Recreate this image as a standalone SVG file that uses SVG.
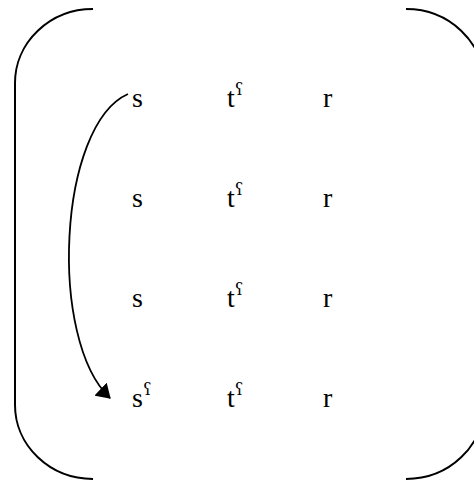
<svg xmlns="http://www.w3.org/2000/svg" width="474" height="482" viewBox="0 0 474 482">
<defs>
<style>
text{font-family:"Liberation Serif","DejaVu Serif",serif;font-size:28px;fill:#000}
.sup{font-family:"DejaVu Serif","Liberation Serif",serif;font-size:16px}
.br{fill:none;stroke:#000;stroke-width:2}
.cn{fill:none;stroke:#000;stroke-width:1.8}
</style>
<marker id="ah" viewBox="0 0 14 18" refX="13" refY="9" markerWidth="14" markerHeight="18" markerUnits="userSpaceOnUse" orient="auto">
<path d="M0,0 L14,9 L0,18 Z" fill="#000"/>
</marker>
</defs>
<rect width="474" height="482" fill="#fff"/>
<g id="brackets">
<path class="br" d="M93,9 A78,74 0 0 0 15,83 L15,405 A78,74 0 0 0 93,479"/>
<path class="br" d="M406,9 A78,74 0 0 1 484,83 L484,405 A78,74 0 0 1 406,479"/>
</g>
<g id="connectors">
<path class="cn" d="M128,94 C58,125 48,340 110,398" marker-end="url(#ah)"/>
</g>
<g id="row1"><text x="132" y="107">s</text><text x="227" y="107">t<tspan class="sup" dy="-12">ʕ</tspan></text><text x="323" y="107">r</text></g>
<g id="row2"><text x="132" y="207">s</text><text x="227" y="207">t<tspan class="sup" dy="-12">ʕ</tspan></text><text x="323" y="207">r</text></g>
<g id="row3"><text x="132" y="307">s</text><text x="227" y="307">t<tspan class="sup" dy="-12">ʕ</tspan></text><text x="323" y="307">r</text></g>
<g id="row4"><text x="132" y="407">s<tspan class="sup" dy="-12">ʕ</tspan></text><text x="227" y="407">t<tspan class="sup" dy="-12">ʕ</tspan></text><text x="323" y="407">r</text></g>
</svg>
